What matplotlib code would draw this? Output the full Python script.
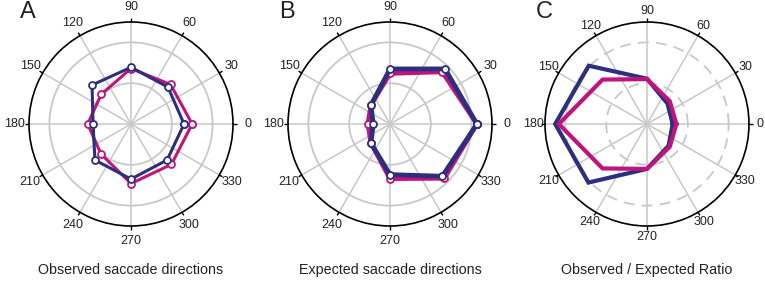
import numpy as np
import matplotlib
matplotlib.use("Agg")
import matplotlib.pyplot as plt

plt.rcParams['font.family'] = ['Liberation Sans', 'DejaVu Sans']

directions = [0, 45, 90, 135, 180, 225, 270, 315]
angle_ticks = list(range(0, 360, 30))
angle_labels = [str(a) for a in angle_ticks]

obs_blue = [0.130, 0.128, 0.139, 0.135, 0.093, 0.125, 0.135, 0.125]
obs_mag = [0.150, 0.137, 0.136, 0.103, 0.106, 0.104, 0.146, 0.140]
exp_blue = [0.213, 0.191, 0.135, 0.066, 0.041, 0.066, 0.124, 0.181]
exp_mag = [0.213, 0.181, 0.124, 0.066, 0.054, 0.066, 0.134, 0.188]
ratio_blue = [0.63, 0.71, 1.11, 2.02, 2.25, 2.03, 1.10, 0.75]
ratio_mag = [0.72, 0.79, 1.10, 1.54, 2.16, 1.54, 1.10, 0.79]

titles = ["Observed saccade directions", "Expected saccade directions", "Observed / Expected Ratio"]
letters = ["A", "B", "C"]

BLUE = "#2c2f7e"
MAG = "#c0147c"
GRID = "#c8c8c8"

fig = plt.figure(figsize=(7.65, 2.85), dpi=100)

centers_px = [131, 390, 647]
R = 102
cy = 124

def closed(v):
    return list(v) + [v[0]]

th = np.deg2rad(closed(directions))

panels = [
    (obs_blue, obs_mag, 0.25, [0.1, 0.2], '-', True, 2.2, False, 3.5),
    (exp_blue, exp_mag, 0.25, [0.1, 0.2], '-', True, 3.4, False, 3.5),
    (ratio_blue, ratio_mag, 2.5, [1, 2], (0, (6, 4)), False, 3.0, True, 1.2),
]

for i, (b, m, rmax, rings, ringstyle, markers, lw, mag_top, pad) in enumerate(panels):
    cx = centers_px[i]
    left = (cx - R) / 765
    bottom = (285 - (cy + R)) / 285
    ax = fig.add_axes([left, bottom, 2 * R / 765, 2 * R / 285], projection='polar')
    ax.set_ylim(0, rmax)
    ax.set_thetagrids(angle_ticks, angle_labels, fontsize=9)
    ax.set_rgrids(rings, labels=[''] * len(rings))
    ax.tick_params(axis='x', pad=pad, length=0, labelcolor='#222222')
    for gl in ax.xaxis.get_gridlines():
        gl.set_color(GRID); gl.set_linewidth(1.1); gl.set_linestyle('-')
    for gl in ax.yaxis.get_gridlines():
        gl.set_color(GRID); gl.set_linewidth(1.3); gl.set_linestyle(ringstyle)
    ax.spines['polar'].set_color('black')
    ax.spines['polar'].set_linewidth(1.2)
    # outer tick marks
    for a in angle_ticks:
        ax.plot([np.deg2rad(a)] * 2, [rmax, rmax * 1.035], color='black', lw=1.0,
                clip_on=False, zorder=5, solid_capstyle='butt')
    mk = dict(marker='o', markersize=5, markerfacecolor='white', markeredgewidth=1.3) if markers else {}
    zb, zm = (3, 4) if mag_top else (4, 3)
    ax.plot(th, closed(m), color=MAG, lw=lw, markeredgecolor=MAG, zorder=zm, solid_joinstyle='miter', **mk)
    ax.plot(th, closed(b), color=BLUE, lw=lw, markeredgecolor=BLUE, zorder=zb, solid_joinstyle='miter', **mk)
    ax.set_ylim(0, rmax)
    fig.text(cx / 765, 1 - 270 / 285, titles[i], ha='center', va='center', fontsize=10.3, color='#222222')
    fig.text((cx - 111) / 765, 1 - 12 / 285, letters[i], ha='left', va='center', fontsize=17, color='#222222')

fig.savefig("out.png", dpi=100)
